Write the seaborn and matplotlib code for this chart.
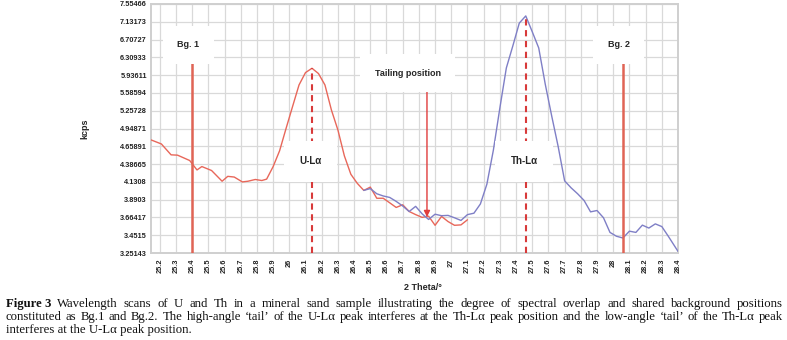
import numpy as np
import pandas as pd
import seaborn as sns
import matplotlib
matplotlib.use("Agg")
import matplotlib.pyplot as plt

# ---- data (2 Theta in degrees, intensity in kcps) ----
u_theta = [25.146, 25.21, 25.27, 25.31, 25.385, 25.43, 25.46, 25.52, 25.585, 25.62,
           25.66, 25.71, 25.745, 25.79, 25.83, 25.86, 25.90, 25.94, 25.98, 26.02,
           26.06, 26.10, 26.14, 26.18, 26.22, 26.26, 26.30, 26.34, 26.38, 26.42,
           26.46, 26.50, 26.54, 26.58, 26.62, 26.66, 26.70, 26.74, 26.78, 26.82,
           26.86, 26.90, 26.94, 26.98, 27.02, 27.06, 27.10]
u_kcps = [4.763, 4.697, 4.528, 4.523, 4.441, 4.302, 4.351, 4.294, 4.14, 4.21,
          4.20, 4.13, 4.14, 4.165, 4.15, 4.17, 4.35, 4.59, 4.95, 5.334,
          5.743, 5.99, 6.08, 5.97, 5.743, 5.27, 4.925, 4.512, 4.24, 4.11,
          4.015, 4.06, 3.909, 3.909, 3.85, 3.791, 3.825, 3.74, 3.70, 3.665,
          3.68, 3.57, 3.677, 3.615, 3.57, 3.575, 3.636]

th_theta = [26.46, 26.50, 26.54, 26.58, 26.62, 26.66, 26.70, 26.74, 26.78, 26.82,
            26.86, 26.90, 26.94, 26.98, 27.02, 27.06, 27.10, 27.14, 27.18, 27.22,
            27.26, 27.30, 27.34, 27.38, 27.42, 27.46, 27.50, 27.54, 27.58, 27.62,
            27.66, 27.70, 27.74, 27.78, 27.82, 27.86, 27.90, 27.94, 27.98, 28.02,
            28.06, 28.10, 28.14, 28.18, 28.22, 28.26, 28.30, 28.34, 28.40]
th_kcps = [4.015, 4.04, 3.97, 3.94, 3.92, 3.868, 3.81, 3.739, 3.805, 3.71,
           3.64, 3.705, 3.686, 3.69, 3.66, 3.628, 3.70, 3.718, 3.836, 4.10,
           4.60, 5.306, 6.086, 6.564, 7.10, 7.271, 6.894, 6.52, 5.764, 5.168,
           4.656, 4.145, 4.05, 3.97, 3.88, 3.735, 3.752, 3.66, 3.485, 3.44,
           3.42, 3.50, 3.485, 3.572, 3.537, 3.587, 3.555, 3.44, 3.27]

ytick_labels = ["7.55466", "7.13173", "6.70727", "6.30933", "5.93611", "5.58594",
                "5.25728", "4.94871", "4.65891", "4.38665", "4.1308", "3.8903",
                "3.66417", "3.4515", "3.25143"]
xticks = [round(25.2 + 0.1 * k, 1) for k in range(33)]

bg_positions = [25.4, 28.06]
bg_labels = ["Bg. 1", "Bg. 2"]
peak_positions = [26.14, 27.46]
peak_tops = [6.08, 7.271]
peak_labels = ["U-Lα", "Th-Lα"]
tail_pos = 26.85

# ---- y axis: Excel-like axis with evenly spaced (non-linear) tick values ----
yt = np.array([float(s) for s in ytick_labels])[::-1]
yi = np.arange(len(yt), dtype=float)


def fwd(v):
    v = np.asarray(v, dtype=float)
    out = np.interp(v, yt, yi)
    lo = (v - yt[0]) / (yt[1] - yt[0])
    hi = yi[-1] + (v - yt[-1]) / (yt[-1] - yt[-2])
    return np.where(v < yt[0], lo, np.where(v > yt[-1], hi, out))


def inv(i):
    i = np.asarray(i, dtype=float)
    out = np.interp(i, yi, yt)
    lo = yt[0] + i * (yt[1] - yt[0])
    hi = yt[-1] + (i - yi[-1]) * (yt[-1] - yt[-2])
    return np.where(i < 0, lo, np.where(i > yi[-1], hi, out))


sns.set_style("whitegrid")
plt.rcParams["font.family"] = ["Liberation Sans", "DejaVu Sans"]

fig = plt.figure(figsize=(7.87, 3.40), dpi=100)
ax = fig.add_axes([151 / 787, 1 - 253 / 340, 527 / 787, 249 / 340])

u_df = pd.DataFrame({"theta": u_theta, "kcps": u_kcps})
th_df = pd.DataFrame({"theta": th_theta, "kcps": th_kcps})
sns.lineplot(data=u_df, x="theta", y="kcps", color="#e8675a", lw=1.0, ax=ax, zorder=3)
sns.lineplot(data=th_df, x="theta", y="kcps", color="#7f7fc6", lw=1.0, ax=ax, zorder=3)

ax.set_yscale("function", functions=(fwd, inv))
ax.set_ylim(yt[0], yt[-1])
ax.set_xlim(25.146, 28.4)
ax.set_yticks(yt)
ax.set_yticklabels(ytick_labels[::-1])
ax.set_xticks(xticks)
ax.set_xticklabels([f"{v:g}" for v in xticks], rotation=90)
ax.minorticks_off()
ax.tick_params(axis="both", length=0, labelsize=5.3, colors="#222222")
ax.tick_params(axis="y", pad=3)
ax.tick_params(axis="x", pad=4)
for lab in ax.get_xticklabels() + ax.get_yticklabels():
    lab.set_fontweight("bold")

ax.grid(True, color="#d9d9d9", lw=0.9)
for s in ax.spines.values():
    s.set_color("#cfcfcf")
    s.set_linewidth(1.4)

ax.set_ylabel("kcps", fontsize=6.5, fontweight="bold")
ax.yaxis.set_label_coords(-(151 - 89) / 527, 0.5)
ax.set_xlabel("2 Theta/°", fontsize=6.5, fontweight="bold")
ax.xaxis.set_label_coords((423 - 151) / 527, -(283 - 253) / 249)

box = dict(boxstyle="square,pad=1.6", fc="white", ec="none")

# background positions
for xb, lb in zip(bg_positions, bg_labels):
    ax.vlines(xb, yt[0], 6.3, color="#e06455", lw=1.8, zorder=4)
    ax.text(xb - 0.025, 6.59, lb, ha="center", va="center", fontsize=6.5,
            fontweight="bold", bbox=box, zorder=5)

# peak positions
for xp, top, lp in zip(peak_positions, peak_tops, peak_labels):
    ax.vlines(xp, yt[0], top, color="#d83a3a", lw=1.5, linestyles=(0, (3, 2.2)), zorder=4)
    ax.text(xp - 0.01, 4.43, lp, ha="center", va="center", fontsize=7,
            fontweight="bold", bbox=box, zorder=5)

# tailing position arrow
ax.annotate("", xy=(tail_pos, 3.67), xytext=(tail_pos, 5.9),
            arrowprops=dict(arrowstyle="-|>", color="#e03c3c", lw=1.0,
                            mutation_scale=9, shrinkA=0, shrinkB=0), zorder=4)
ax.text(26.73, 5.98, "Tailing position", ha="center", va="center", fontsize=6.5,
        fontweight="bold", bbox=box, zorder=5)

# ---- caption, justified to the figure width ----
fig.canvas.draw()
renderer = fig.canvas.get_renderer()
cap_font = dict(family=["Liberation Serif", "DejaVu Serif"], fontsize=9.2, color="#111111")
W, H = 787.0, 340.0


def justified_line(words, y, x0=6, x1=783):
    texts = []
    for w, wt in words:
        t = fig.text(0, 1 - y / H, w, va="center", ha="left", fontweight=wt, **cap_font)
        texts.append(t)
    widths = [t.get_window_extent(renderer).width for t in texts]
    gap = (x1 - x0 - sum(widths)) / (len(texts) - 1)
    x = x0
    for t, wd in zip(texts, widths):
        t.set_x(x / W)
        x += wd + gap


line1 = [("Figure 3", "bold")] + [(w, "normal") for w in
         "Wavelength scans of U and Th in a mineral sand sample illustrating the degree of spectral overlap and shared background positions".split()]
line2 = [(w, "normal") for w in
         "constituted as Bg.1 and Bg.2. The high-angle ‘tail’ of the U-Lα peak interferes at the Th-Lα peak position and the low-angle ‘tail’ of the Th-Lα peak".split()]
justified_line(line1, 304)
justified_line(line2, 317)
fig.text(6 / W, 1 - 330 / H, "interferes at the U-Lα peak position.", va="center", ha="left", **cap_font)

fig.savefig("out.png", dpi=100)
